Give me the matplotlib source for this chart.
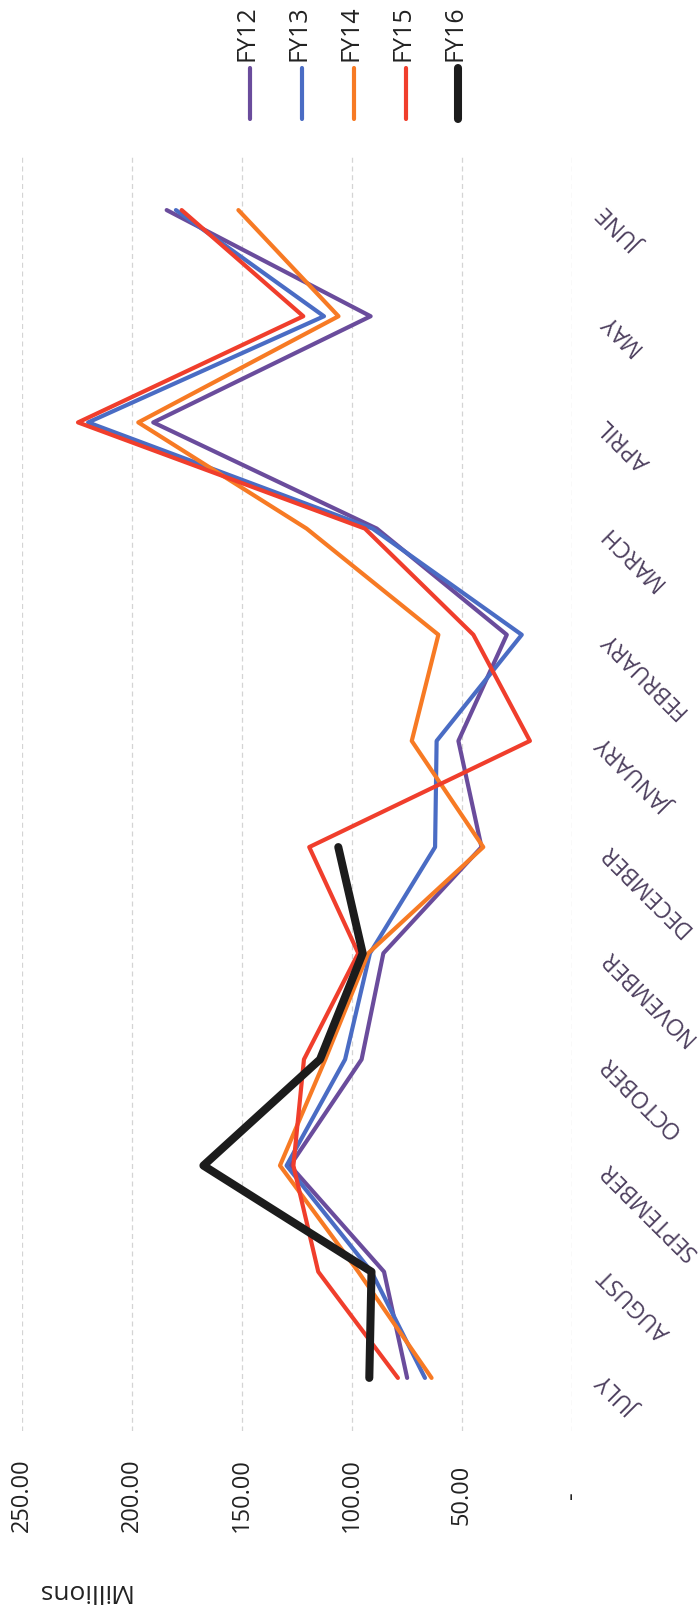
import matplotlib
matplotlib.use("Agg")
import matplotlib.pyplot as plt
from matplotlib.lines import Line2D

plt.rcParams["font.family"] = ["Open Sans", "DejaVu Sans"]

# fiscal-year months, July first
months = ["JULY", "AUGUST", "SEPTEMBER", "OCTOBER", "NOVEMBER", "DECEMBER",
          "JANUARY", "FEBRUARY", "MARCH", "APRIL", "MAY", "JUNE"]

# monthly totals, millions
fy12 = [74.8, 85.3, 128.0, 95.5, 85.6, 41.0, 51.5, 29.5, 88.6, 190.2, 91.4, 184.1]
fy13 = [66.7, 91.0, 129.6, 103.0, 91.7, 62.1, 61.4, 22.7, 90.5, 219.8, 112.6, 179.9]
fy14 = [63.7, 97.0, 132.6, 112.0, 92.5, 40.2, 72.7, 60.6, 120.5, 197.0, 106.0, 151.5]
fy15 = [79.0, 115.2, 126.5, 121.7, 97.0, 119.3, 19.0, 44.7, 94.0, 224.4, 122.0, 177.3]
fy16 = [92.0, 91.0, 167.4, 114.4, 95.0, 106.1]

series_names = ["FY12", "FY13", "FY14", "FY15", "FY16"]
series_values = [fy12, fy13, fy14, fy15, fy16]

value_ticks = [250, 200, 150, 100, 50, 0]
value_labels = ["250.00", "200.00", "150.00", "100.00", "50.00", "-"]

colors = ["#6a4c9c", "#4a6cc4", "#f77a24", "#f03e2c", "#1c1c1c"]
widths = [3.0, 3.0, 3.0, 3.0, 5.8]

W, H = 700, 1612
fig = plt.figure(figsize=(W / 100, H / 100), dpi=100)
fig.patch.set_facecolor("white")

# the chart is laid on its side: values run right-to-left, months bottom-to-top
ax = fig.add_axes([21.7 / W, (H - 1431) / H, 550 / W, 1274 / H])
ax.set_xlim(250, 0)
ax.set_ylim(-0.5, len(months) - 0.5)

for name, vals, c, lw in zip(series_names, series_values, colors, widths):
    ax.plot(vals, range(len(vals)), color=c, lw=lw, label=name,
            solid_capstyle="round", solid_joinstyle="round")

for s in ax.spines.values():
    s.set_visible(False)

ax.set_xticks(value_ticks)
ax.set_xticklabels(value_labels, rotation=90, fontsize=17, color="#222222",
                   va="center")
ax.grid(axis="x", color="#d4d4d4", lw=0.9, ls=(0, (4, 3)))
ax.set_axisbelow(True)

ax.yaxis.tick_right()
ax.set_yticks(range(len(months)))
ax.set_yticklabels(months, fontsize=16.5, color="#4d3f5e")
for lab in ax.get_yticklabels():
    lab.set_rotation(135)
    lab.set_rotation_mode("anchor")
    lab.set_horizontalalignment("right")
    lab.set_verticalalignment("center")
ax.tick_params(axis="both", length=0)
ax.tick_params(axis="x", pad=46)
ax.tick_params(axis="y", pad=23)

fig.text(83 / W, 1 - 1590 / H, "Millions", rotation=180, ha="center",
         va="center", fontsize=19, color="#222222")

# legend, drawn sideways across the top
for i, (name, c, lw) in enumerate(zip(series_names, colors, widths)):
    x = (250 + 52 * i) / W
    fig.add_artist(Line2D([x, x], [1 - 68 / H, 1 - 119 / H], color=c, lw=lw,
                          solid_capstyle="round", transform=fig.transFigure))
    fig.text(x - 3 / W, 1 - 61 / H, name, rotation=90, ha="center", va="bottom",
             fontsize=18, color="#222222")

fig.savefig("out.png", dpi=100, facecolor="white")
